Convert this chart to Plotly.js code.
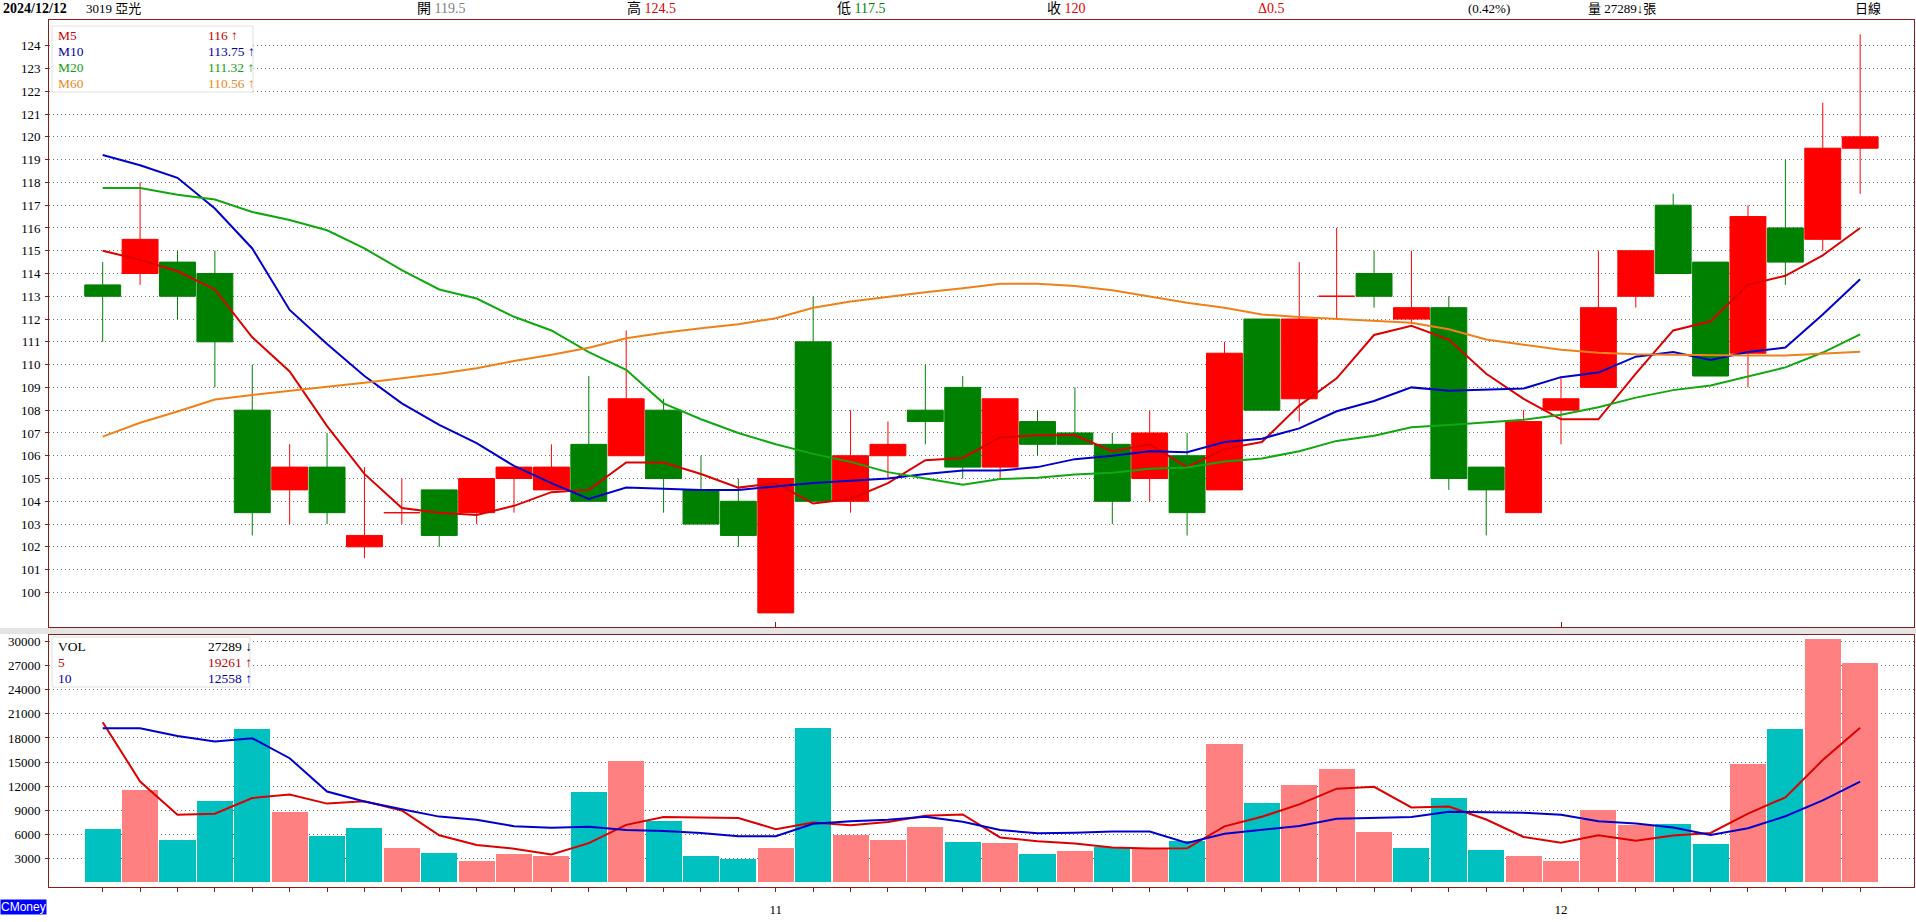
<!DOCTYPE html>
<html><head><meta charset="utf-8">
<script src="https://cdn.plot.ly/plotly-3.0.1.min.js"></script>
<style>html,body{margin:0;padding:0;background:#fff;overflow:hidden}#chart{width:1916px;height:922px}</style>
</head><body><div id="chart"></div>
<script>
// ---------------- data ----------------
const open  = [113.5,114,114.5,114,108,104.5,105.5,102,103.5,104.5,103.5,105,104.5,106.5,106,108,104.5,104,99.1,111,104,106,108,109,105.5,107.5,107,106.5,105,106,104.5,112,108.5,113,114,112,112.5,105.5,103.5,108,109,113,117,114.5,110.5,116,115.5,119.5];
const high  = [114.5,118,115,115,110,106.5,107,105.5,105,104.5,105,105.5,106.5,109.5,111.5,108.5,106,105,105,113,108,107.5,110,109.5,108.5,108,109,107,108,107,111,112,114.5,116,115,115,113,105.5,108,109.5,115,115,117.5,114.5,117,119,121.5,124.5];
const low   = [111,113.5,112,109,102.5,103,103,101.5,103,102,103,103.5,104.5,104,106,103.5,103,102,99.1,104,103.5,105,106.5,105,105,106,106.5,103,104,102.5,104.5,108,107.5,112,112.5,111.8,104.5,102.5,103.5,106.5,109,112.5,114,109.5,109,113.5,115,117.5];
const close = [113,115.5,113,111,103.5,105.5,103.5,102.5,103.5,102.5,105,105.5,105.5,104,108.5,105,103,102.5,105,104,106,106.5,107.5,105.5,108.5,106.5,106.5,104,107,103.5,110.5,108,112,113,113,112.5,105,104.5,107.5,108.5,112.5,115,114,109.5,116.5,114.5,119.5,120];

const ma5  = [115,114.6,114.1,113.3,111.2,109.7,107.3,105.2,103.7,103.5,103.4,103.8,104.4,104.5,105.7,105.7,105.2,104.6,104.8,103.9,104.1,104.8,105.8,105.9,106.8,106.9,106.9,106.2,106.5,105.5,106.3,106.6,108.2,109.4,111.3,111.7,111.1,109.6,108.5,107.6,107.6,109.6,111.5,111.9,113.5,113.9,114.8,116];
const ma10 = [119.2,118.75,118.2,116.85,115.1,112.4,110.9,109.5,108.3,107.35,106.55,105.55,104.8,104.1,104.6,104.55,104.5,104.5,104.65,104.8,104.9,105.0,105.2,105.35,105.35,105.5,105.85,106.0,106.2,106.15,106.6,106.75,107.2,107.95,108.4,109.0,108.85,108.9,108.95,109.45,109.65,110.35,110.55,110.2,110.55,110.75,112.2,113.75];
const ma20 = [117.75,117.75,117.46,117.25,116.7,116.35,115.9,115.1,114.15,113.3,112.9,112.1,111.5,110.55,109.77,108.3,107.6,107.0,106.5,106.08,105.73,105.28,105.0,104.73,104.98,105.03,105.18,105.25,105.43,105.48,105.75,105.88,106.2,106.65,106.88,107.25,107.35,107.45,107.58,107.8,108.13,108.55,108.88,109.08,109.48,109.88,110.53,111.33];
const ma60 = [106.84,107.45,107.94,108.47,108.67,108.86,109.03,109.2,109.4,109.6,109.84,110.16,110.43,110.74,111.16,111.4,111.6,111.77,112.04,112.5,112.77,112.99,113.18,113.35,113.55,113.55,113.45,113.26,113.0,112.72,112.5,112.2,112.09,112.0,111.94,111.84,111.55,111.1,110.87,110.65,110.52,110.45,110.43,110.4,110.4,110.4,110.47,110.56];

const vol   = [6600,11500,5300,10100,19100,8800,5800,6800,4300,3700,2700,3500,3250,11300,15100,7600,3250,2900,4350,19200,5900,5250,6900,5050,4900,3500,3950,4400,4300,5100,17200,9900,12100,14100,6300,4300,10500,4000,3250,2650,9000,7100,7300,4780,14730,19100,30360,27289];
const volUp = [0,1,0,0,0,1,0,0,1,0,1,1,1,0,1,0,0,0,1,0,1,1,1,0,1,0,1,0,1,0,1,0,1,1,1,0,0,0,1,1,1,1,0,0,1,0,1,1];
const vma5  = [19970,12576,8430,8568,10520,10960,9820,10120,8960,5880,4660,4200,3490,4890,7170,8150,8100,8030,6640,7460,7120,7520,8320,8460,5600,5120,4860,4360,4210,4250,6990,8180,9720,11680,11920,9340,9460,7840,5670,4940,5880,5200,5860,6166,8582,10602,15254,19261];
const vma10 = [19210,19210,18242,17551,17966,15478,11332,10090,9121,8200,7810,7010,6805,6925,6525,6405,6150,5760,5765,7315,7635,7810,8175,7550,6530,6120,6190,6340,6335,4925,6055,6520,7040,7945,8085,8165,8820,8780,8675,8430,7610,7330,6850,5918,6761,8241,10227,12558];

const priceTicks = [100,101,102,103,104,105,106,107,108,109,110,111,112,113,114,115,116,117,118,119,120,121,122,123,124];
const volTicks   = [3000,6000,9000,12000,15000,18000,21000,24000,27000,30000];
const monthTickIdx  = [18, 39];
const monthTickText = ['11', '12'];

const headerDate = '2024/12/12';
const headerName = '3019 亞光';
const headerLabels = ['開', '高', '低', '收'];
const headerValues = ['119.5', '124.5', '117.5', '120'];
const headerChange = 'Δ0.5';
const headerPct = '(0.42%)';
const headerVol = '量 27289↓張';
const headerPeriod = '日線';

const maLabels = ['M5', 'M10', 'M20', 'M60'];
const maLast   = ['116', '113.75', '111.32', '110.56'];
const maArrow  = ['↑', '↑', '↑', '↑'];
const volLabels = ['VOL', '5', '10'];
const volLast   = ['27289', '19261', '12558'];
const volArrow  = ['↓', '↑', '↑'];

// ---------------- styling ----------------
const W = 1916, H = 922;
const px = x => x / W, py = y => 1 - y / H;
const FONT = "'Liberation Serif', 'Noto Sans CJK TC', serif";
const BORDER = '#8c1c1c';
const RED = '#e00000', GREEN = '#008000';
const maColors = ['#dd0000', '#0000cc', '#10a810', '#f08018'];
const maTextColors = ['#cc0000', '#0000aa', '#10a010', '#e88a1a'];
const volTextColors = ['#000000', '#cc0000', '#0000aa'];
const idx = open.map((_, i) => i);
const xRange = [-1.436, 48.44];

const traces = [];
traces.push({
  type: 'candlestick', x: idx, open: open, high: high, low: low, close: close,
  xaxis: 'x', yaxis: 'y', whiskerwidth: 0, hoverinfo: 'skip',
  increasing: {line: {color: '#ff0000', width: 1}, fillcolor: '#ff0000'},
  decreasing: {line: {color: '#008000', width: 1}, fillcolor: '#008000'}
});
[ma5, ma10, ma20, ma60].forEach((s, k) => traces.push({
  type: 'scatter', mode: 'lines', x: idx, y: s, xaxis: 'x', yaxis: 'y',
  line: {color: maColors[k], width: 2}, hoverinfo: 'skip'
}));
traces.push({
  type: 'bar', x: idx, y: vol, xaxis: 'x2', yaxis: 'y2', width: 0.965,
  marker: {color: volUp.map(u => u ? '#ff8080' : '#00c0c0'), line: {width: 0}},
  hoverinfo: 'skip'
});
[vma5, vma10].forEach((s, k) => traces.push({
  type: 'scatter', mode: 'lines', x: idx, y: s, xaxis: 'x2', yaxis: 'y2',
  line: {color: k === 0 ? '#dd0000' : '#0000cc', width: 2}, hoverinfo: 'skip'
}));

const axisCommon = {
  showline: true, mirror: true, linecolor: BORDER, linewidth: 1, zeroline: false,
  tickcolor: BORDER, tickfont: {family: FONT, size: 13, color: '#000'}, fixedrange: true
};
const xDomain = [px(49), px(1914)];

const annotations = [];
function ann(text, x, y, opts) {
  annotations.push(Object.assign({
    text: text, xref: 'paper', yref: 'paper', x: px(x), y: py(y),
    xanchor: 'left', yanchor: 'middle', showarrow: false,
    font: {family: FONT, size: 13, color: '#000'}
  }, opts || {}));
}
// header
ann('<b>' + headerDate + '</b>', 1, 8.5, {font: {family: FONT, size: 14, color: '#000'}});
ann(headerName, 84, 8.5);
const hColors = ['#808080', RED, GREEN, RED];
const hX = [415, 625, 835, 1045];
headerLabels.forEach((l, i) => ann(l + ' <span style="color:' + hColors[i] + '">' + headerValues[i] + '</span>', hX[i], 8.5, {font: {family: FONT, size: 14, color: '#000'}}));
ann(headerChange, 1256, 8.5, {font: {family: FONT, size: 14, color: RED}});
ann(headerPct, 1466, 8.5);
ann(headerVol, 1586, 8.5);
ann(headerPeriod, 1853, 8.5);
// price legend
const maRowY = [35.6, 51.7, 67.8, 83.9];
maLabels.forEach((l, i) => {
  ann(l, 56, maRowY[i], {font: {family: FONT, size: 13.5, color: maTextColors[i]}});
  ann(maLast[i] + ' ' + maArrow[i], 206, maRowY[i], {font: {family: FONT, size: 13.5, color: maTextColors[i]}});
});
// volume legend
const volRowY = [646.7, 662.8, 678.9];
volLabels.forEach((l, i) => {
  ann(l, 56, volRowY[i], {font: {family: FONT, size: 13.5, color: volTextColors[i]}});
  ann(volLast[i] + ' ' + volArrow[i], 206, volRowY[i], {font: {family: FONT, size: 13.5, color: volTextColors[i]}});
});
// brand tag
ann('CMoney', 0, 907, {bgcolor: '#0000ff', font: {family: "'Liberation Sans', Arial, sans-serif", size: 12, color: '#ffffff'}, borderpad: 0});

const shapes = [
  {type: 'rect', xref: 'paper', yref: 'paper', x0: 0, x1: 1, y0: py(634), y1: py(628), fillcolor: '#e4e4e4', line: {width: 0}, layer: 'below'},
  {type: 'rect', xref: 'paper', yref: 'paper', x0: px(52), x1: px(253), y0: py(92), y1: py(26), fillcolor: '#ffffff', line: {color: '#e0e0e0', width: 1}, layer: 'above'},
  {type: 'rect', xref: 'paper', yref: 'paper', x0: px(52), x1: px(250), y0: py(687), y1: py(637), fillcolor: '#ffffff', line: {color: '#e0e0e0', width: 1}, layer: 'above'}
];

const layout = {
  width: W, height: H, margin: {l: 0, r: 0, t: 0, b: 0},
  paper_bgcolor: '#ffffff', plot_bgcolor: '#ffffff', showlegend: false,
  boxgap: 0.04, boxgroupgap: 0, bargap: 0,
  font: {family: FONT, size: 13, color: '#000'},
  xaxis: Object.assign({}, axisCommon, {
    domain: xDomain, range: xRange, anchor: 'y', showgrid: false,
    tickvals: monthTickIdx, ticks: 'inside', ticklen: 5, showticklabels: false,
    rangeslider: {visible: false}
  }),
  yaxis: Object.assign({}, axisCommon, {
    domain: [py(627), py(20)], range: [98.48, 125.13], anchor: 'x',
    tickvals: priceTicks, ticktext: priceTicks.map(String), ticks: 'outside', ticklen: 3,
    showgrid: true, gridcolor: '#707070', gridwidth: 1, griddash: '1px,3px', ticklabelstandoff: 2
  }),
  xaxis2: Object.assign({}, axisCommon, {
    domain: xDomain, range: xRange, anchor: 'y2', showgrid: false,
    tickvals: idx, ticktext: idx.map(i => { const k = monthTickIdx.indexOf(i); return k >= 0 ? monthTickText[k] : ''; }),
    ticks: 'outside', ticklen: 4, ticklabelstandoff: 6
  }),
  yaxis2: Object.assign({}, axisCommon, {
    domain: [py(887), py(635)], range: [-573, 30835], anchor: 'x2',
    tickvals: volTicks, ticktext: volTicks.map(String), ticks: 'outside', ticklen: 3,
    showgrid: true, gridcolor: '#707070', gridwidth: 1, griddash: '1px,3px', ticklabelstandoff: 2
  }),
  annotations: annotations, shapes: shapes
};

Plotly.newPlot('chart', traces, layout, {staticPlot: true, displayModeBar: false});
</script></body></html>
